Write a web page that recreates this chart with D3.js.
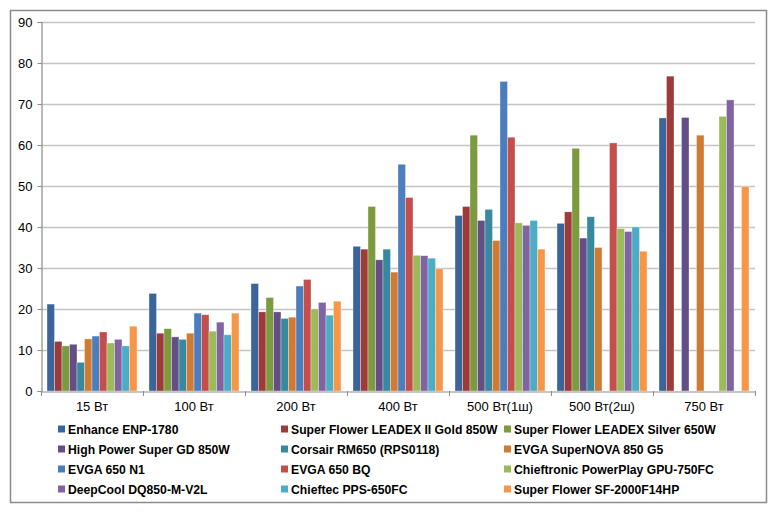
<!DOCTYPE html>
<html><head><meta charset="utf-8">
<script src="https://cdn.jsdelivr.net/npm/d3@7"></script>
<style>body{margin:0;background:#fff}svg{display:block}</style>
</head><body><svg id="c" width="780" height="516"></svg>
<script>
const categories = ["15 Вт","100 Вт","200 Вт","400 Вт","500 Вт(1ш)","500 Вт(2ш)","750 Вт"];
const seriesNames = ["Enhance ENP-1780","Super Flower LEADEX II Gold 850W","Super Flower LEADEX Silver 650W",
 "High Power Super GD 850W","Corsair RM650 (RPS0118)","EVGA SuperNOVA 850 G5",
 "EVGA 650 N1","EVGA 650 BQ","Chieftronic PowerPlay GPU-750FC",
 "DeepCool DQ850-M-V2L","Chieftec PPS-650FC","Super Flower SF-2000F14HP"];
const colors = ["#3b659a","#9c3b39","#7c9a3e","#654e85","#36899f","#d07b34",
 "#4a7ebf","#c44e4b","#9bbb59","#8064a2","#4bacc6","#f79646"];
// values per series, per category (null = no bar)
const enhance     = [21.2,23.8,26.2,35.3,42.8,40.9,66.6];
const sfGold      = [12.1,14.1,19.3,34.6,45.0,43.7,76.8];
const sfSilver    = [11.0,15.2,22.8,45.0,62.4,59.2,null];
const highPower   = [11.4,13.2,19.3,32.0,41.6,37.3,66.7];
const corsair     = [7.0,12.6,17.7,34.6,44.3,42.5,null];
const evgaG5      = [12.7,14.1,18.0,29.0,36.7,35.0,62.4];
const evgaN1      = [13.4,19.0,25.6,55.3,75.5,null,null];
const evgaBQ      = [14.4,18.6,27.2,47.2,61.9,60.5,null];
const chieftronic = [11.7,14.6,20.0,33.1,41.0,39.6,67.0];
const deepcool    = [12.6,16.8,21.6,33.0,40.4,38.9,71.0];
const chieftec    = [11.0,13.7,18.5,32.4,41.6,40.0,null];
const sf2000      = [15.8,19.0,21.9,29.8,34.6,34.1,49.8];
const seriesValues = [enhance,sfGold,sfSilver,highPower,corsair,evgaG5,evgaN1,evgaBQ,chieftronic,deepcool,chieftec,sf2000];
const yTicks = [0,10,20,30,40,50,60,70,80,90];

const svg = d3.select("#c");
const font = "'Liberation Sans', Arial, sans-serif";
svg.append("rect").attr("x",10.5).attr("y",10.5).attr("width",756).attr("height",492)
  .attr("fill","#fff").attr("stroke","#8c8c8c").attr("stroke-width",1.5);

const L=41, R=755, T=22, B=391;
const y = d3.scaleLinear().domain([0,90]).range([B,T]);
const x0 = d3.scaleBand().domain(categories).range([L,R]).paddingInner(0).paddingOuter(0);
const x1 = d3.scaleBand().domain(d3.range(seriesNames.length)).range([6, x0.bandwidth()-6]).padding(0);

// gridlines
svg.append("g").selectAll("line").data(yTicks.filter(d=>d>0)).join("line")
  .attr("x1",L).attr("x2",R).attr("y1",d=>y(d)+0.5).attr("y2",d=>y(d)+0.5)
  .attr("stroke","#c4c4c4").attr("stroke-width",1.3);

// bars
const g = svg.append("g");
seriesValues.forEach((vals,si)=>{
  g.append("g").selectAll("rect").data(categories.map((c,ci)=>({c,v:vals[ci]})).filter(d=>d.v!=null))
   .join("rect")
   .attr("x",d=>x0(d.c)+x1(si)).attr("width",x1.bandwidth())
   .attr("y",d=>y(d.v)).attr("height",d=>B-y(d.v))
   .attr("fill",colors[si]).attr("stroke","rgba(255,255,255,0.55)").attr("stroke-width",0.6);
});

// y axis
const ya = svg.append("g").attr("transform",`translate(${L+0.5},0)`)
  .call(d3.axisLeft(y).tickValues(yTicks).tickSize(4).tickPadding(5));
ya.select(".domain").attr("stroke","#8c8c8c").attr("stroke-width",1.2);
ya.selectAll(".tick line").attr("stroke","#8c8c8c");
ya.selectAll("text").attr("font-family",font).attr("font-size",13).attr("fill","#000");

// x axis
const xa = svg.append("g").attr("transform",`translate(0,${B+0.5})`)
  .call(d3.axisBottom(x0).tickSize(0).tickPadding(10));
xa.select(".domain").attr("stroke","#8c8c8c").attr("stroke-width",1.2);
xa.selectAll("text").attr("font-family",font).attr("font-size",13).attr("fill","#000");
svg.append("g").selectAll("line").data(d3.range(categories.length+1)).join("line")
  .attr("x1",i=>L+0.5+i*x0.bandwidth()).attr("x2",i=>L+0.5+i*x0.bandwidth())
  .attr("y1",B).attr("y2",B+5).attr("stroke","#8c8c8c").attr("stroke-width",1);

// legend
const colX=[58,281,504], rowY=[429,449,469,489];
const lg = svg.append("g");
seriesNames.forEach((n,i)=>{
  const cx=colX[i%3], cy=rowY[Math.floor(i/3)];
  lg.append("rect").attr("x",cx).attr("y",cy-3.5).attr("width",7).attr("height",7).attr("fill",colors[i]);
  lg.append("text").attr("x",cx+10).attr("y",cy+4.5).text(n)
    .attr("font-family",font).attr("font-size",12.2).attr("font-weight","bold").attr("fill","#000");
});
</script></body></html>
